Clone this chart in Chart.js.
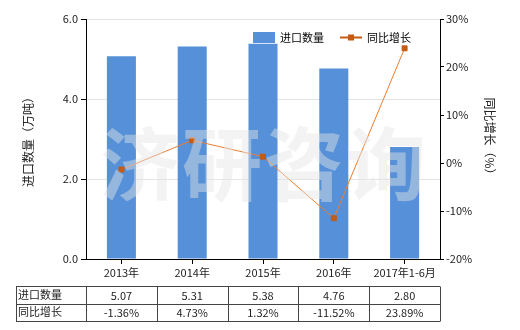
<!DOCTYPE html>
<html lang="zh">
<head>
    <meta charset="UTF-8">
    <title>进口数量及同比增长</title>
    <style>
        body { margin: 0; background: #fff; }
        #wrap { width: 520px; height: 330px; }
    </style>
</head>
<body>
    <div id="wrap"><canvas id="chart" width="520" height="330"></canvas></div>
    <script src="https://cdn.jsdelivr.net/npm/chart.js"></script>
    <script>
        // 数据
        const categories = ['2013年', '2014年', '2015年', '2016年', '2017年1-6月'];
        const importQty = [5.07, 5.31, 5.38, 4.76, 2.80];
        const growthRate = [-1.36, 4.73, 1.32, -11.52, 23.89];
        const qtyLabel = '进口数量';
        const rateLabel = '同比增长';

        const FONT = '"Noto Sans CJK SC", "DejaVu Sans", sans-serif';
        const BAR_COLOR = '#5590d8';
        const LINE_COLOR = '#ed7d31';
        const MARK_COLOR = '#c55a11';

        // 水印 + 图例 + 数据表
        const extras = {
            id: 'extras',
            afterDatasetsDraw(chart) {
                const ctx = chart.ctx;
                const area = chart.chartArea;
                ctx.save();
                ctx.font = 'bold 80px ' + FONT;
                ctx.fillStyle = 'rgba(228,228,228,0.45)';
                ctx.textAlign = 'center';
                ctx.textBaseline = 'middle';
                const wm = '济研咨询';
                const cx = (area.left + area.right) / 2;
                for (let i = 0; i < wm.length; i++) {
                    ctx.fillText(wm[i], cx + (i - 1.5) * 82, 164);
                }
                ctx.restore();
            },
            afterDraw(chart) {
                const ctx = chart.ctx;
                const x = chart.scales.x;
                ctx.save();

                // 图例
                ctx.font = '11px ' + FONT;
                ctx.textBaseline = 'middle';
                ctx.fillStyle = BAR_COLOR;
                ctx.fillRect(253, 32, 22, 11);
                ctx.fillStyle = '#000';
                ctx.textAlign = 'left';
                ctx.fillText(qtyLabel, 280, 38);
                ctx.strokeStyle = MARK_COLOR;
                ctx.lineWidth = 2;
                ctx.beginPath();
                ctx.moveTo(340, 37.5);
                ctx.lineTo(362, 37.5);
                ctx.stroke();
                ctx.fillStyle = MARK_COLOR;
                ctx.fillRect(348, 34.5, 6, 6);
                ctx.fillStyle = '#000';
                ctx.fillText(rateLabel, 367, 38);

                // 数据表
                const top = 286, rowH = 17.5;
                const left = 16, colL = chart.chartArea.left, right = chart.chartArea.right;
                const step = (right - colL) / categories.length;
                ctx.strokeStyle = '#444';
                ctx.lineWidth = 1;
                ctx.beginPath();
                for (let r = 0; r <= 2; r++) {
                    const y = Math.round(top + r * rowH) + 0.5;
                    ctx.moveTo(left, y);
                    ctx.lineTo(right, y);
                }
                const ys = top, ye = Math.round(top + 2 * rowH) + 0.5;
                ctx.moveTo(left + 0.5, ys + 0.5);
                ctx.lineTo(left + 0.5, ye);
                for (let c = 0; c <= categories.length; c++) {
                    const xx = Math.round(colL + c * step) + 0.5;
                    ctx.moveTo(xx, ys + 0.5);
                    ctx.lineTo(xx, ye);
                }
                ctx.stroke();

                ctx.fillStyle = '#222';
                ctx.textAlign = 'left';
                ctx.fillText(qtyLabel, left + 2, top + rowH / 2);
                ctx.fillText(rateLabel, left + 2, top + rowH * 1.5);
                ctx.textAlign = 'center';
                categories.forEach((c, i) => {
                    const px = x.getPixelForValue(i);
                    ctx.fillText(importQty[i].toFixed(2), px, top + rowH / 2 + 1);
                    ctx.fillText(growthRate[i].toFixed(2) + '%', px, top + rowH * 1.5 + 1);
                });
                ctx.restore();
            }
        };

        const tickFont = { family: FONT, size: 11 };

        new Chart(document.getElementById('chart'), {
            data: {
                labels: categories,
                datasets: [
                    {
                        type: 'line',
                        label: rateLabel,
                        data: growthRate,
                        yAxisID: 'y1',
                        borderColor: LINE_COLOR,
                        borderWidth: 1,
                        pointStyle: 'rect',
                        pointRadius: 3.5,
                        pointBackgroundColor: MARK_COLOR,
                        pointBorderColor: MARK_COLOR,
                        tension: 0,
                        order: 0
                    },
                    {
                        type: 'bar',
                        label: qtyLabel,
                        data: importQty,
                        yAxisID: 'y',
                        backgroundColor: BAR_COLOR,
                        categoryPercentage: 1,
                        barPercentage: 0.41,
                        order: 1
                    }
                ]
            },
            options: {
                responsive: false,
                animation: false,
                layout: { padding: { top: 19, left: 0, right: 0, bottom: 47 } },
                plugins: {
                    legend: { display: false },
                    tooltip: { enabled: false }
                },
                scales: {
                    x: {
                        grid: { drawOnChartArea: false, offset: false, tickLength: 5, tickColor: '#000' },
                        border: { color: '#000' },
                        ticks: { color: '#222', font: tickFont, padding: 2, maxRotation: 0 },
                        afterFit(s) { s.height = 24; }
                    },
                    y: {
                        position: 'left',
                        min: 0,
                        max: 6,
                        ticks: { stepSize: 2, color: '#222', font: tickFont, padding: 3,
                                 callback: v => v.toFixed(1) },
                        grid: { color: '#e4e4e4', tickColor: '#000', tickLength: 5 },
                        border: { color: '#000' },
                        title: { display: true, text: '进口数量（万吨）', color: '#222',
                                 font: { family: FONT, size: 12 }, padding: { top: 21, bottom: 0 } },
                        afterFit(s) { s.width = 86; }
                    },
                    y1: {
                        position: 'right',
                        min: -20,
                        max: 30,
                        ticks: { stepSize: 10, color: '#222', font: tickFont, padding: 2,
                                 callback: v => v + '%' },
                        grid: { drawOnChartArea: false, tickColor: '#000', tickLength: 4 },
                        border: { color: '#000' },
                        title: { display: true, text: '同比增长（%）', color: '#222',
                                 font: { family: FONT, size: 12 }, padding: { top: 23, bottom: 0 } },
                        afterFit(s) { s.width = 80; }
                    }
                }
            },
            plugins: [extras]
        });
    </script>
</body>
</html>
